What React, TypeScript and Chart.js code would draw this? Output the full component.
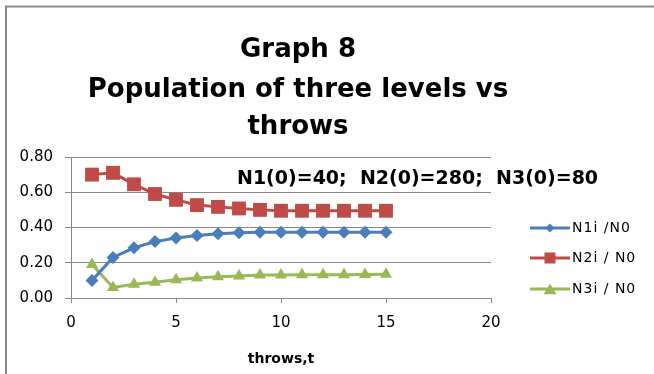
import React, { useEffect, useRef } from "react";
import { Chart, registerables } from "chart.js";

Chart.register(...registerables);

// Throw number (x) and the normalised populations of the three levels
const throwsT = [1, 2, 3, 4, 5, 6, 7, 8, 9, 10, 11, 12, 13, 14, 15];
const n1 = [0.10, 0.23, 0.285, 0.32, 0.34, 0.355, 0.365, 0.37, 0.373, 0.373, 0.373, 0.373, 0.373, 0.373, 0.373];
const n2 = [0.70, 0.71, 0.645, 0.59, 0.557, 0.527, 0.517, 0.508, 0.50, 0.495, 0.495, 0.495, 0.495, 0.495, 0.495];
const n3 = [0.19, 0.06, 0.078, 0.09, 0.103, 0.113, 0.12, 0.125, 0.13, 0.13, 0.132, 0.132, 0.132, 0.134, 0.135];

const seriesNames = ["N1i /N0", "N2i / N0", "N3i / N0"];
const titleLines = ["Graph 8", "Population of three levels vs", "throws"];
const noteText = "N1(0)=40;  N2(0)=280;  N3(0)=80";
const xTitle = "throws,t";
const xRange = [0, 20];
const yRange = [0, 0.8];

const BLUE = "#4A7EBB";
const RED = "#BE4B48";
const GREEN = "#98B954";
const GRID = "#888888";
const FONT = "'DejaVu Sans', sans-serif";

type Marker = "diamond" | "square" | "triangle";

function drawMarker(ctx: CanvasRenderingContext2D, kind: Marker, x: number, y: number, r: number, color: string) {
  ctx.save();
  ctx.fillStyle = color;
  ctx.beginPath();
  if (kind === "diamond") {
    ctx.moveTo(x, y - r);
    ctx.lineTo(x + r, y);
    ctx.lineTo(x, y + r);
    ctx.lineTo(x - r, y);
  } else if (kind === "square") {
    ctx.rect(x - r, y - r, 2 * r, 2 * r);
  } else {
    const h = r * 1.6;
    ctx.moveTo(x, y - h / 2);
    ctx.lineTo(x + r, y + h / 2);
    ctx.lineTo(x - r, y + h / 2);
  }
  ctx.closePath();
  ctx.fill();
  ctx.restore();
}

// White page with the grey frame on the left and top edges
const framePlugin = {
  id: "frame",
  beforeDraw(chart: Chart) {
    const { ctx, width, height } = chart;
    ctx.save();
    ctx.fillStyle = "#ffffff";
    ctx.fillRect(0, 0, width, height);
    ctx.strokeStyle = "#8a8a8a";
    ctx.lineWidth = 2;
    ctx.beginPath();
    ctx.moveTo(6, height);
    ctx.lineTo(6, 6.5);
    ctx.lineTo(width, 6.5);
    ctx.stroke();
    ctx.restore();
  },
};

// Title, initial-condition note and the line+marker legend
const decorPlugin = {
  id: "decor",
  afterDraw(chart: Chart) {
    const { ctx } = chart;
    ctx.save();
    ctx.fillStyle = "#000";
    ctx.textAlign = "center";
    ctx.textBaseline = "alphabetic";
    ctx.font = `bold 26px ${FONT}`;
    const baselines = [57, 96.5, 134];
    titleLines.forEach((line, i) => ctx.fillText(line, 298, baselines[i]));

    ctx.textAlign = "left";
    ctx.font = `bold 19px ${FONT}`;
    ctx.fillText(noteText, 237, 184);

    const markers: Marker[] = ["diamond", "square", "triangle"];
    const sizes = [4.5, 5.5, 6.5];
    const rows = [228, 258, 289];
    chart.data.datasets.forEach((ds: any, i: number) => {
      const y = rows[i];
      ctx.strokeStyle = ds.borderColor;
      ctx.lineWidth = 3;
      ctx.beginPath();
      ctx.moveTo(530, y);
      ctx.lineTo(570, y);
      ctx.stroke();
      drawMarker(ctx, markers[i], 550, y, sizes[i], ds.borderColor);
      ctx.fillStyle = "#000";
      ctx.font = `14px ${FONT}`;
      (ctx as any).letterSpacing = "1px";
      ctx.textBaseline = "middle";
      ctx.fillText(seriesNames[i], 572, y);
      (ctx as any).letterSpacing = "0px";
    });
    ctx.restore();
  },
};

export default function App() {
  const canvasRef = useRef<HTMLCanvasElement | null>(null);

  useEffect(() => {
    document.body.style.margin = "0";
    const canvas = canvasRef.current;
    if (!canvas) return;

    const toPoints = (vals: number[]) => throwsT.map((t, i) => ({ x: t, y: vals[i] }));

    const chart = new Chart(canvas, {
      type: "line",
      data: {
        datasets: [
          {
            label: seriesNames[0],
            data: toPoints(n1),
            borderColor: BLUE,
            backgroundColor: BLUE,
            pointStyle: "rectRot",
            pointRadius: 6.5,
            pointBorderWidth: 0,
            borderWidth: 3,
          },
          {
            label: seriesNames[1],
            data: toPoints(n2),
            borderColor: RED,
            backgroundColor: RED,
            pointStyle: "rect",
            pointRadius: 9.8,
            pointBorderWidth: 0,
            borderWidth: 3,
          },
          {
            label: seriesNames[2],
            data: toPoints(n3),
            borderColor: GREEN,
            backgroundColor: GREEN,
            pointStyle: "triangle",
            pointRadius: 7,
            pointBorderWidth: 0,
            borderWidth: 3,
          },
        ],
      },
      options: {
        responsive: false,
        animation: false,
        events: [],
        layout: { padding: { top: 157, right: 163, left: 0, bottom: 0 } },
        plugins: {
          legend: { display: false },
          title: { display: false },
          tooltip: { enabled: false },
        },
        scales: {
          x: {
            type: "linear",
            min: xRange[0],
            max: xRange[1],
            ticks: {
              stepSize: 5,
              padding: 11,
              color: "#000",
              maxRotation: 0,
              font: { family: FONT, size: 15 },
            },
            grid: { drawOnChartArea: false, drawTicks: true, tickLength: 5, color: GRID },
            border: { color: GRID, width: 1 },
            title: {
              display: true,
              text: xTitle,
              color: "#000",
              font: { family: FONT, size: 14, weight: "bold" },
              padding: { top: 0, bottom: 6.6 },
            },
            afterFit: (s: any) => {
              s.height = 76;
            },
          },
          y: {
            min: yRange[0],
            max: yRange[1],
            ticks: {
              stepSize: 0.2,
              padding: 12,
              color: "#000",
              font: { family: FONT, size: 15 },
              callback: (v: any) => Number(v).toFixed(2),
            },
            grid: { color: GRID, tickLength: 6 },
            border: { color: GRID, width: 1 },
            afterFit: (s: any) => {
              s.width = 71;
            },
          },
        },
      },
      plugins: [framePlugin, decorPlugin],
    } as any);

    return () => chart.destroy();
  }, []);

  return <canvas ref={canvasRef} width={654} height={374} style={{ display: "block" }} />;
}
